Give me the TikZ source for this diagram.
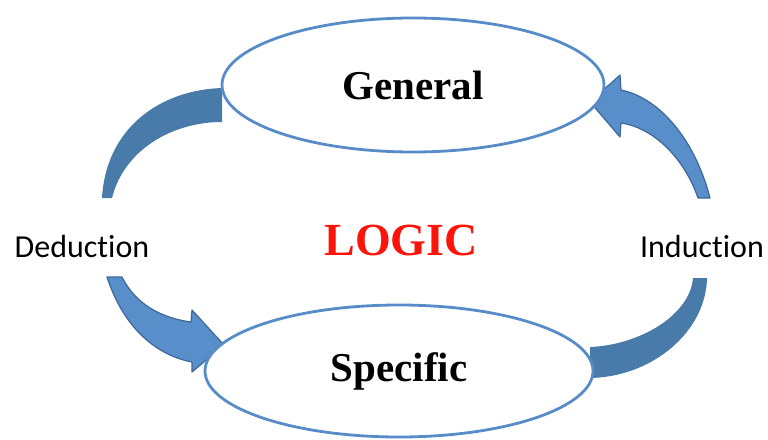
\documentclass[tikz,border=0pt]{standalone}
\usepackage{fontspec}
\setmainfont{Liberation Serif}
\newfontfamily\calib[Ligatures=NoCommon]{Carlito}
\usetikzlibrary{shapes.geometric}
\definecolor{ellblue}{RGB}{88,140,200}
\definecolor{bandblue}{RGB}{72,122,170}
\definecolor{arrblue}{RGB}{88,142,202}
\definecolor{arredge}{RGB}{62,104,152}
\definecolor{logicred}{RGB}{250,20,10}
\begin{document}
\begin{tikzpicture}[x=1pt,y=-1pt,
  oval/.style={ellipse, draw=ellblue, line width=2.8pt, fill=white, inner sep=0pt,
     font=\fontsize{41}{44}\selectfont\bfseries},
  band/.style={fill=bandblue, draw=none},
  bigarrow/.style={fill=arrblue, draw=arredge, line width=1.2pt, line join=round},
  side/.style={font=\calib\fontsize{32}{35}\selectfont}]
\useasboundingbox (0,0) rectangle (768,439);
% left top band
\path[band] (102,198) .. controls (106,128) and (160,90) .. (222,88)
  -- (222,122) .. controls (172,122) and (124,150) .. (112,198) -- cycle;
% right bottom band
\path[band] (707,278) .. controls (706,332) and (652,377) .. (590,378)
  -- (590,347) .. controls (640,345) and (690,315) .. (693,278) -- cycle;
% left bottom arrow
\draw[bigarrow] (107,277) .. controls (125,332) and (160,356) .. (192,362)
  -- (192,372) -- (224,345) -- (192,310) -- (191,322)
  .. controls (162,318) and (136,305) .. (122,277) -- cycle;
% right top arrow
\draw[bigarrow] (590,102) -- (620,75) -- (621,90)
  .. controls (660,98) and (695,140) .. (710,198)
  -- (698,198) .. controls (685,160) and (655,128) .. (621,123)
  -- (620,137) -- cycle;
% ellipses
\node[oval, minimum width=382pt, minimum height=134pt] (gen) at (413,85) {General};
\node[oval, minimum width=388pt, minimum height=132pt] (spec) at (399,371) {Specific};
\node[font=\fontsize{46}{50}\selectfont\bfseries, text=logicred] (logic) at (401,240) {LOGIC};
\node[side] (ded) at (82,247) {Deduction};
\node[side] (ind) at (702,247) {Induction};
\end{tikzpicture}
\end{document}
